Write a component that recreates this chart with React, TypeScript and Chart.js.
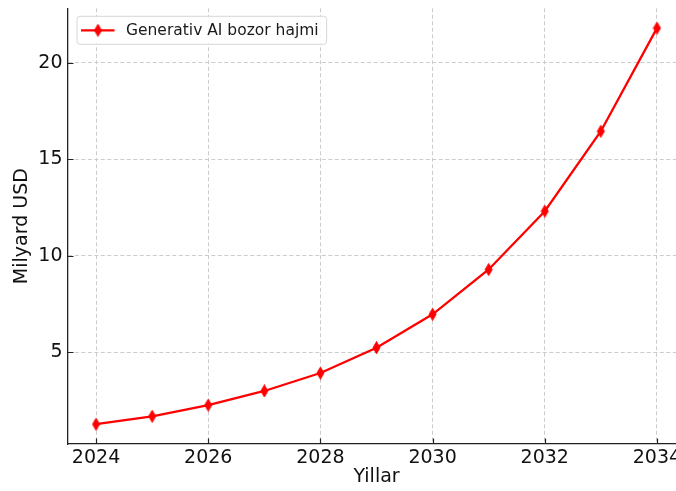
import React, { useEffect, useRef } from "react";
import { Chart, registerables } from "chart.js";

Chart.register(...registerables);

// ---- Data ----
const years: number[] = [2024, 2025, 2026, 2027, 2028, 2029, 2030, 2031, 2032, 2033, 2034];
const marketSize: number[] = [1.28, 1.69, 2.27, 3.0, 3.93, 5.24, 6.97, 9.29, 12.31, 16.45, 21.79];
const xTickValues: number[] = [2024, 2026, 2028, 2030, 2032, 2034];
const yTickValues: number[] = [5, 10, 15, 20];
const seriesLabel = "Generativ AI bozor hajmi";
const xTitle = "Yillar";
const yTitle = "Milyard USD";

const FONT = "'DejaVu Sans', sans-serif";
const RED = "#ff0000";

function makeDiamond(): HTMLCanvasElement {
  const c = document.createElement("canvas");
  c.width = 9;
  c.height = 13;
  const ctx = c.getContext("2d")!;
  ctx.fillStyle = RED;
  ctx.strokeStyle = RED;
  ctx.lineWidth = 1;
  ctx.beginPath();
  ctx.moveTo(4.5, 0.5);
  ctx.lineTo(8, 6.5);
  ctx.lineTo(4.5, 12.5);
  ctx.lineTo(1, 6.5);
  ctx.closePath();
  ctx.fill();
  ctx.stroke();
  return c;
}

export default function App() {
  const canvasRef = useRef<HTMLCanvasElement | null>(null);

  useEffect(() => {
    const canvas = canvasRef.current;
    if (!canvas) return;
    const diamond = makeDiamond();

    const xr = years[years.length - 1] - years[0];
    const yMinD = Math.min(...marketSize);
    const yMaxD = Math.max(...marketSize);
    const yr = yMaxD - yMinD;

    const insideTicks = {
      id: "insideTicks",
      afterDatasetsDraw(chart: any) {
        const { ctx, chartArea, scales } = chart;
        ctx.save();
        ctx.strokeStyle = "#222";
        ctx.lineWidth = 1.2;
        ctx.beginPath();
        for (const v of xTickValues) {
          const px = Math.round(scales.x.getPixelForValue(v)) + 0.5;
          ctx.moveTo(px, chartArea.bottom);
          ctx.lineTo(px, chartArea.bottom - 5.5);
        }
        for (const v of yTickValues) {
          const py = Math.round(scales.y.getPixelForValue(v)) + 0.5;
          ctx.moveTo(chartArea.left, py);
          ctx.lineTo(chartArea.left + 5.5, py);
        }
        ctx.stroke();
        ctx.restore();
      },
    };

    const boxLegend = {
      id: "boxLegend",
      afterDraw(chart: any) {
        const { ctx, chartArea } = chart;
        const label = chart.data.datasets[0].label as string;
        ctx.save();
        ctx.font = `15.5px ${FONT}`;
        const tw = ctx.measureText(label).width;
        const bx = chartArea.left + 9;
        const by = chartArea.top + 8;
        const bw = 49 + tw + 8;
        const bh = 28;
        const r = 3;
        ctx.beginPath();
        ctx.moveTo(bx + r, by);
        ctx.lineTo(bx + bw - r, by);
        ctx.quadraticCurveTo(bx + bw, by, bx + bw, by + r);
        ctx.lineTo(bx + bw, by + bh - r);
        ctx.quadraticCurveTo(bx + bw, by + bh, bx + bw - r, by + bh);
        ctx.lineTo(bx + r, by + bh);
        ctx.quadraticCurveTo(bx, by + bh, bx, by + bh - r);
        ctx.lineTo(bx, by + r);
        ctx.quadraticCurveTo(bx, by, bx + r, by);
        ctx.closePath();
        ctx.fillStyle = "rgba(255,255,255,0.85)";
        ctx.fill();
        ctx.strokeStyle = "#d6d6d6";
        ctx.lineWidth = 1;
        ctx.stroke();
        const cy = by + bh / 2;
        ctx.strokeStyle = RED;
        ctx.lineWidth = 2.3;
        ctx.beginPath();
        ctx.moveTo(bx + 4, cy);
        ctx.lineTo(bx + 37.5, cy);
        ctx.stroke();
        ctx.drawImage(diamond, bx + 21 - diamond.width / 2, cy - diamond.height / 2);
        ctx.fillStyle = "#1a1a1a";
        ctx.textBaseline = "middle";
        ctx.textAlign = "left";
        ctx.fillText(label, bx + 49, cy + 0.5);
        ctx.restore();
      },
    };

    const chart = new Chart(canvas, {
      type: "line",
      data: {
        datasets: [
          {
            label: seriesLabel,
            data: years.map((y, i) => ({ x: y, y: marketSize[i] })),
            borderColor: RED,
            backgroundColor: RED,
            borderWidth: 2.3,
            pointStyle: diamond as any,
            pointRadius: 6,
            pointHoverRadius: 6,
            tension: 0,
            fill: false,
            clip: false as any,
          },
        ],
      },
      options: {
        responsive: false,
        animation: false,
        devicePixelRatio: 1,
        layout: { padding: { top: 8, right: 15, left: 0, bottom: 0 } },
        plugins: {
          legend: { display: false },
          tooltip: { enabled: false },
          title: { display: false },
        },
        scales: {
          x: {
            type: "linear",
            min: years[0] - 0.05 * xr,
            max: years[years.length - 1] + 0.05 * xr,
            afterBuildTicks: (scale: any) => {
              scale.ticks = xTickValues.map((v) => ({ value: v }));
            },
            afterFit: (scale: any) => {
              scale.height = 47;
              scale.paddingLeft = 0;
              scale.paddingRight = 0;
            },
            ticks: {
              font: { family: FONT, size: 19 },
              color: "#111",
              padding: 3,
              maxRotation: 0,
              autoSkip: false,
              callback: (v: any) => String(v),
            },
            grid: { color: "#cccccc", lineWidth: 1, drawTicks: false },
            border: { display: true, color: "#222", width: 1.3, dash: [4, 2.5] },
            title: {
              display: true,
              text: xTitle,
              font: { family: FONT, size: 19 },
              color: "#111",
              padding: { top: 0, bottom: 3 },
            },
          },
          y: {
            type: "linear",
            min: yMinD - 0.05 * yr,
            max: yMaxD + 0.05 * yr,
            afterBuildTicks: (scale: any) => {
              scale.ticks = yTickValues.map((v) => ({ value: v }));
            },
            afterFit: (scale: any) => {
              scale.width = 68;
              scale.paddingTop = 0;
              scale.paddingBottom = 0;
            },
            ticks: {
              font: { family: FONT, size: 19 },
              color: "#111",
              padding: 5.5,
              autoSkip: false,
              callback: (v: any) => String(v),
            },
            grid: { color: "#cccccc", lineWidth: 1, drawTicks: false },
            border: { display: true, color: "#222", width: 1.3, dash: [4, 2.5] },
            title: {
              display: true,
              text: yTitle,
              font: { family: FONT, size: 19 },
              color: "#111",
              padding: { top: 11, bottom: 0 },
            },
          },
        },
      },
      plugins: [insideTicks, boxLegend],
    });

    return () => {
      chart.destroy();
    };
  }, []);

  return (
    <div
      style={{
        position: "fixed",
        left: 0,
        top: 0,
        width: 676,
        height: 491,
        overflow: "hidden",
        background: "#ffffff",
      }}
    >
      <canvas ref={canvasRef} width={700} height={491} style={{ display: "block", width: 700, height: 491 }} />
    </div>
  );
}
